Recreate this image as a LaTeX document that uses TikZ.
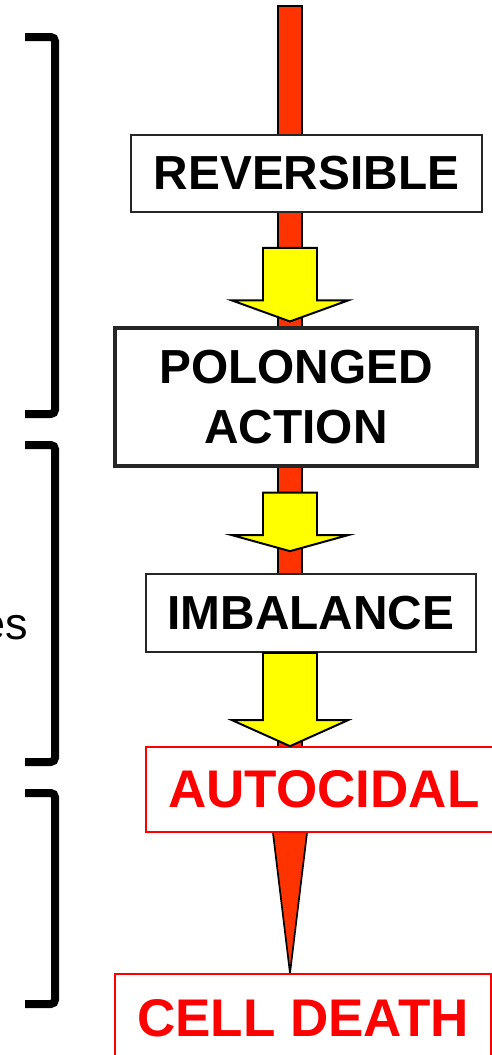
\documentclass[tikz,border=0pt]{standalone}
\usepackage{fontspec}
\setmainfont{Liberation Sans}
\usetikzlibrary{calc,backgrounds}

\definecolor{barred}{RGB}{255,51,0}
\definecolor{arrowyellow}{RGB}{255,255,0}

% fat yellow arrow: #1 start of shaft, #2 tip, #3 length of the head
\newcommand{\fatarrow}[3]{%
  \draw[fatarrow] ($(#1)+(-0.675,0)$) -- ($(#2)+(-0.675,#3)$) -- ($(#2)+(-1.45,#3)$) -- (#2)
    -- ($(#2)+(1.45,#3)$) -- ($(#2)+(0.675,#3)$) -- ($(#1)+(0.675,0)$) -- cycle;}

\begin{document}
\begin{tikzpicture}[
    stage/.style={draw=black!85, line width=1.2pt, fill=white, inner sep=0pt, align=center, font=\fontsize{34}{42.7}\selectfont\bfseries},
    fatal/.style={stage, draw=red, text=red, font=\fontsize{37.7}{45}\selectfont\bfseries},
    redbar/.style={draw=black, line width=1.2pt, fill=barred, line join=miter},
    fatarrow/.style={draw=black, line width=1.4pt, fill=arrowyellow, line join=miter},
    bracket/.style={line width=0.2cm, rounded corners=3pt}
  ]

\useasboundingbox (0,0) rectangle (12.3,-26.375);

% axis of the bar
\coordinate (axis) at (7.25,0);

% stages
\node[stage, minimum width=8.775cm, minimum height=1.925cm] (reversible) at (7.6625,-4.3375) {REVERSIBLE};
\node[stage, line width=2.2pt, minimum width=9.05cm, minimum height=3.45cm] (polonged) at (7.4,-9.925) {POLONGED\\ACTION};
\node[stage, minimum width=8.25cm, minimum height=1.95cm] (imbalance) at (7.775,-15.325) {IMBALANCE};
\node[fatal, minimum width=8.9cm, minimum height=2.125cm] (autocidal) at (8.1,-19.7375) {AUTOCIDAL};
\node[fatal, minimum width=9.4cm, minimum height=2.2cm] (celldeath) at (7.575,-25.45) {CELL DEATH};

% red bar and its point, behind the boxes
\begin{scope}[on background layer]
\draw[redbar] ($(axis)+(-0.3,-0.15)$) rectangle ($(axis |- autocidal.north)+(0.3,-0.2)$);
\draw[redbar] ($(axis |- autocidal.south)+(-0.45,0.2)$) -- (axis |- celldeath.north)
    -- ($(axis |- autocidal.south)+(0.45,0.2)$) -- cycle;
\end{scope}

% yellow arrows
\coordinate (s1) at ($(reversible.south -| axis)+(0,-0.875)$);
\coordinate (t1) at ($(polonged.north -| axis)+(0,0.125)$);
\coordinate (s2) at ($(polonged.south -| axis)+(0,-0.625)$);
\coordinate (t2) at ($(imbalance.north -| axis)+(0,0.55)$);
\coordinate (s3) at (imbalance.south -| axis);
\coordinate (t3) at (autocidal.north -| axis);
\fatarrow{s1}{t1}{0.525}
\fatarrow{s2}{t2}{0.4}
\fatarrow{s3}{t3}{0.65}

% brackets
\foreach \ya/\yb in {-0.925/-10.35, -11.125/-19.05, -19.825/-25.1}
  \draw[bracket] (0.625,\ya) -- (1.375,\ya) -- (1.375,\yb) -- (0.625,\yb);

% cut off label
\node[anchor=east, inner sep=0pt, font=\fontsize{32}{38}\selectfont] (es) at (0.7,-15.7) {es};

\end{tikzpicture}
\end{document}
